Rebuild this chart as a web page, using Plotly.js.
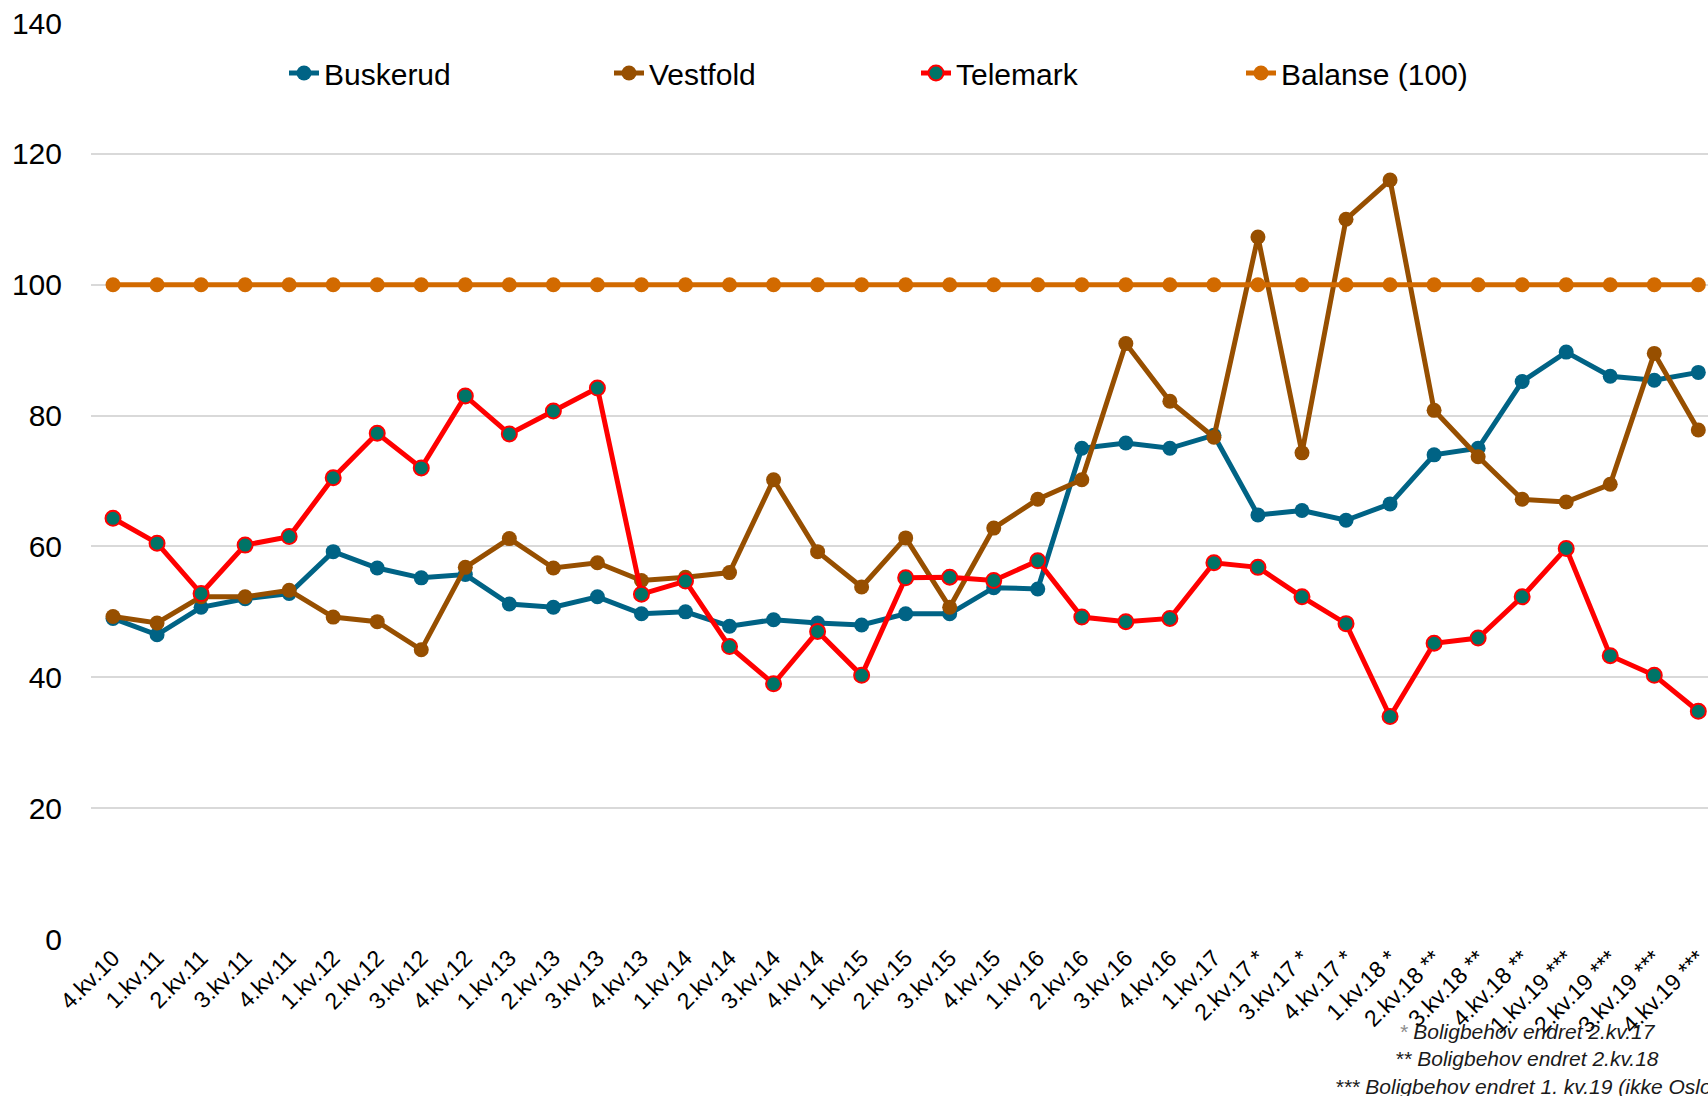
<!DOCTYPE html>
<html>
<head>
<meta charset="utf-8">
<script src="https://cdn.plot.ly/plotly-3.0.1.min.js"></script>
<style>
  html, body { margin: 0; padding: 0; background: #ffffff; }
  #chart { width: 1708px; height: 1096px; }
</style>
</head>
<body>
<div id="chart"></div>
<script>
const categories = [
  "4.kv.10",
  "1.kv.11", "2.kv.11", "3.kv.11", "4.kv.11",
  "1.kv.12", "2.kv.12", "3.kv.12", "4.kv.12",
  "1.kv.13", "2.kv.13", "3.kv.13", "4.kv.13",
  "1.kv.14", "2.kv.14", "3.kv.14", "4.kv.14",
  "1.kv.15", "2.kv.15", "3.kv.15", "4.kv.15",
  "1.kv.16", "2.kv.16", "3.kv.16", "4.kv.16",
  "1.kv.17", "2.kv.17 *", "3.kv.17 *", "4.kv.17 *",
  "1.kv.18 *", "2.kv.18 **", "3.kv.18 **", "4.kv.18 **",
  "1.kv.19 ***", "2.kv.19 ***", "3.kv.19 ***", "4.kv.19 ***"
];

const buskerud = [
  49.0, 46.5, 50.7, 52.0, 52.8, 59.2, 56.7, 55.2, 55.7, 51.2, 50.7, 52.3, 49.7,
  50.0, 47.8, 48.8, 48.3, 48.0, 49.7, 49.7, 53.7, 53.5, 75.0, 75.8, 75.0,
  77.0, 64.8, 65.5, 64.0, 66.5, 74.0, 75.0, 85.2, 89.7, 86.0, 85.4, 86.6
];

const vestfold = [
  49.3, 48.3, 52.3, 52.3, 53.3, 49.2, 48.5, 44.2, 56.8, 61.2, 56.7, 57.5, 54.8,
  55.3, 56.0, 70.2, 59.2, 53.8, 61.3, 50.7, 62.8, 67.2, 70.2, 91.0, 82.2,
  76.7, 107.3, 74.3, 110.0, 116.0, 80.8, 73.7, 67.2, 66.8, 69.5, 89.5, 77.8
];

const telemark = [
  64.3, 60.5, 52.8, 60.2, 61.5, 70.5, 77.3, 72.0, 83.0, 77.2, 80.7, 84.2, 52.7,
  54.7, 44.7, 39.0, 47.0, 40.3, 55.2, 55.3, 54.8, 57.8, 49.2, 48.5, 49.0,
  57.5, 56.8, 52.3, 48.2, 34.0, 45.2, 46.0, 52.3, 59.7, 43.3, 40.3, 34.8
];

const balanse = [
  100, 100, 100, 100, 100, 100, 100, 100, 100, 100, 100, 100, 100,
  100, 100, 100, 100, 100, 100, 100, 100, 100, 100, 100, 100,
  100, 100, 100, 100, 100, 100, 100, 100, 100, 100, 100, 100
];

const seriesNames = ["Buskerud", "Vestfold", "Telemark", "Balanse (100)"];
const yTicks = [0, 20, 40, 60, 80, 100, 120, 140];
const footnoteLines = [
  "<span style='color:#8c8c8c'>*</span> Boligbehov endret 2.kv.17",
  "** Boligbehov endret 2.kv.18",
  "*** Boligbehov endret 1. kv.19 (ikke Oslo)"
];

const FONT = "Liberation Sans, Arial, sans-serif";
const PLOT_L = 91, PLOT_W = 1617, PLOT_T = 23, PLOT_H = 916;

function lineTrace(name, y, lineColor, markerColor, markerLine, legendId) {
  return {
    type: "scatter",
    mode: "lines+markers",
    name: name,
    legend: legendId,
    x: categories,
    y: y,
    line: { color: lineColor, width: 5 },
    marker: {
      color: markerColor,
      size: 15,
      line: markerLine ? { color: markerLine, width: 2 } : { width: 0 }
    },
    cliponaxis: false
  };
}

const traces = [
  lineTrace(seriesNames[0], buskerud, "#006385", "#006385", null, "legend"),
  lineTrace(seriesNames[1], vestfold, "#974F00", "#974F00", null, "legend2"),
  lineTrace(seriesNames[2], telemark, "#FF0000", "#007467", "#FF0000", "legend3"),
  lineTrace(seriesNames[3], balanse, "#D26A00", "#D26A00", null, "legend4")
];

function legendAt(textLeftPx) {
  return {
    orientation: "h",
    x: (textLeftPx - 40 - PLOT_L) / PLOT_W,
    xanchor: "left",
    y: 1 - (73 - PLOT_T) / PLOT_H,
    yanchor: "middle",
    bgcolor: "rgba(0,0,0,0)",
    font: { family: FONT, size: 30, color: "#000000" },
    itemwidth: 30
  };
}

const layout = {
  width: 1708,
  height: 1096,
  paper_bgcolor: "#ffffff",
  plot_bgcolor: "#ffffff",
  margin: { l: PLOT_L, r: 0, t: PLOT_T, b: 1096 - PLOT_T - PLOT_H, pad: 0 },
  font: { family: FONT, color: "#000000" },
  showlegend: true,
  legend: legendAt(324),
  legend2: legendAt(649),
  legend3: legendAt(956),
  legend4: legendAt(1281),
  xaxis: {
    type: "category",
    range: [-0.5, 36.22],
    showgrid: false,
    zeroline: false,
    showline: false,
    ticks: "",
    tickangle: -45,
    tickfont: { family: FONT, size: 23, color: "#000000" },
    fixedrange: true
  },
  yaxis: {
    range: [0, 140],
    tickvals: yTicks,
    ticktext: yTicks.map(String),
    showgrid: true,
    gridcolor: "#d9d9d9",
    gridwidth: 2,
    zeroline: false,
    showline: false,
    ticks: "",
    ticklabelstandoff: 28,
    tickfont: { family: FONT, size: 30, color: "#000000" },
    fixedrange: true
  },
  annotations: [
    {
      xref: "paper",
      yref: "paper",
      x: (1527 - PLOT_L) / PLOT_W,
      xanchor: "center",
      y: (939.3 - 1059) / PLOT_H,
      yanchor: "middle",
      align: "center",
      showarrow: false,
      text: footnoteLines.map(function (t) { return "<i>" + t + "</i>"; }).join("<br>"),
      font: { family: FONT, size: 21, color: "#1a1a1a" }
    }
  ]
};

Plotly.newPlot("chart", traces, layout, { displayModeBar: false, staticPlot: true });
</script>
</body>
</html>
